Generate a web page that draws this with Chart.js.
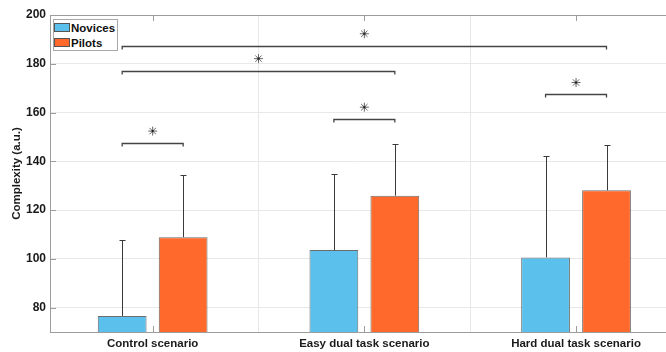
<!DOCTYPE html>
<html>
<head>
<meta charset="utf-8">
<script src="https://cdn.jsdelivr.net/npm/chart.js@4.4.1/dist/chart.umd.min.js"></script>
<style>
  html, body { margin: 0; padding: 0; background: #fff; }
  #wrap { position: relative; width: 666px; height: 352px; }
  #legend {
    position: absolute; left: 53px; top: 19px;
    width: 65px; height: 32px; box-sizing: border-box;
    border: 1px solid #a8a8a8; background: #fff;
    font: bold 11.5px "Liberation Sans", Arial, sans-serif; color: #111;
  }
  #legend .item { height: 15px; display: flex; align-items: center; white-space: nowrap; }
  #legend .sw { width: 16px; height: 9px; box-sizing: border-box; border: 1px solid #555; margin-right: 1px; }
</style>
</head>
<body>
<div id="wrap">
  <canvas id="chart" width="666" height="352"></canvas>
  <div id="legend"></div>
</div>
<script>
'use strict';

// ---------------------------------------------------------------------------
// Data
// ---------------------------------------------------------------------------

const categories = ['Control scenario', 'Easy dual task scenario', 'Hard dual task scenario'];
const seriesNames = ['Novices', 'Pilots'];
const novices    = [76.6, 103.6, 100.6];
const pilots     = [108.9, 125.9, 128.1];
const novicesTop = [107.6, 134.9, 142.3];   // upper end of error bar
const pilotsTop  = [134.4, 146.9, 146.6];
const yTicks     = [80, 100, 120, 140, 160, 180, 200];

// significance brackets: [series, category] -> [series, category] at level
const sigFrom  = [[0, 0], [0, 0], [0, 0], [0, 1], [0, 2]];
const sigTo    = [[1, 0], [1, 1], [1, 2], [1, 1], [1, 2]];
const sigLevel = [147.5, 177.2, 187.4, 157.3, 167.4];

const BLUE   = '#5bc0eb';
const ORANGE = '#ff6a2c';
const AXIS   = '#9c9c9c';
const GRID   = '#e8e8e8';
const FONT   = '"Liberation Sans", Arial, sans-serif';

// ---------------------------------------------------------------------------
// Plugins
// ---------------------------------------------------------------------------

const errorBars = {
  id: 'errorBars',
  afterDatasetsDraw(chart) {
    const { ctx, scales: { y } } = chart;
    ctx.save();
    ctx.strokeStyle = '#3a3a3a';
    ctx.lineWidth = 1;
    chart.data.datasets.forEach((ds, di) => {
      chart.getDatasetMeta(di).data.forEach((bar, i) => {
        const x = Math.round(bar.x) + 0.5;
        const top = Math.round(y.getPixelForValue(ds.errTop[i])) + 0.5;
        ctx.beginPath();
        ctx.moveTo(x, bar.y);
        ctx.lineTo(x, top);
        ctx.moveTo(x - 3, top);
        ctx.lineTo(x + 3, top);
        ctx.stroke();
      });
    });
    ctx.restore();
  },
};

const sigBrackets = {
  id: 'sigBrackets',
  afterDatasetsDraw(chart) {
    const { ctx, scales: { y } } = chart;
    const barX = ([s, c]) => chart.getDatasetMeta(s).data[c].x;
    ctx.save();
    ctx.strokeStyle = '#444';
    ctx.lineWidth = 1.3;
    sigLevel.forEach((lvl, k) => {
      const x1 = barX(sigFrom[k]);
      const x2 = barX(sigTo[k]);
      const yy = Math.round(y.getPixelForValue(lvl)) + 0.5;
      ctx.beginPath();
      ctx.moveTo(x1, yy + 3);
      ctx.lineTo(x1, yy);
      ctx.lineTo(x2, yy);
      ctx.lineTo(x2, yy + 3);
      ctx.stroke();

      const sx = (x1 + x2) / 2;
      const sy = y.getPixelForValue(lvl + 4.9);
      ctx.save();
      ctx.strokeStyle = '#666';
      ctx.lineWidth = 1;
      Chart.helpers.drawPoint(ctx, { pointStyle: 'star', radius: 4.5, borderWidth: 1, rotation: 0 }, sx, sy);
      ctx.fillStyle = '#222';
      ctx.fillRect(sx - 1, sy - 1, 2, 2);
      ctx.restore();
    });
    ctx.restore();
  },
};

const axisFrame = {
  id: 'axisFrame',
  afterDraw(chart) {
    const { ctx, chartArea: a, scales: { x, y } } = chart;
    ctx.save();
    ctx.strokeStyle = AXIS;
    ctx.lineWidth = 1;
    ctx.beginPath();
    ctx.moveTo(a.left, a.top + 0.5);
    ctx.lineTo(a.right, a.top + 0.5);
    // inward tick marks
    x.ticks.forEach(t => {
      const px = Math.round(x.getPixelForValue(t.value)) + 0.5;
      ctx.moveTo(px, a.bottom);
      ctx.lineTo(px, a.bottom - 6);
      ctx.moveTo(px, a.top);
      ctx.lineTo(px, a.top + 6);
    });
    y.ticks.forEach(t => {
      const py = Math.round(y.getPixelForValue(t.value)) + 0.5;
      ctx.moveTo(a.left, py);
      ctx.lineTo(a.left + 6, py);
    });
    ctx.stroke();
    ctx.restore();
  },
};

// ---------------------------------------------------------------------------
// Chart
// ---------------------------------------------------------------------------

const toPoints = arr => arr.map((v, i) => ({ x: i + 1, y: v }));

const chart = new Chart(document.getElementById('chart'), {
  type: 'bar',
  data: {
    datasets: [
      {
        label: seriesNames[0],
        data: toPoints(novices),
        errTop: novicesTop,
        backgroundColor: BLUE,
        borderColor: 'rgba(60,60,60,0.75)',
        borderWidth: 1,
        categoryPercentage: 0.576,
        barPercentage: 0.8,
      },
      {
        label: seriesNames[1],
        data: toPoints(pilots),
        errTop: pilotsTop,
        backgroundColor: ORANGE,
        borderColor: 'rgba(60,60,60,0.75)',
        borderWidth: 1,
        categoryPercentage: 0.576,
        barPercentage: 0.8,
      },
    ],
  },
  options: {
    responsive: false,
    animation: false,
    layout: { padding: { top: 15, right: 0, bottom: 0, left: 0 } },
    plugins: { legend: { display: false }, tooltip: { enabled: false } },
    scales: {
      x: {
        type: 'linear',
        offset: false,
        min: 0.515,
        max: 3.425,
        afterBuildTicks: s => { s.ticks = categories.map((_, i) => ({ value: i + 1 })); },
        afterFit: s => { s.height = 20; },
        grid: { color: GRID, drawTicks: false },
        border: { color: AXIS },
        ticks: {
          padding: 5,
          color: '#1a1a1a',
          maxRotation: 0,
          font: { family: FONT, size: 11.5, weight: 'bold' },
          callback: v => categories[v - 1] ?? '',
        },
      },
      y: {
        min: 70,
        max: 200,
        afterBuildTicks: s => { s.ticks = yTicks.map(v => ({ value: v })); },
        afterFit: s => { s.width = 50; },
        grid: { color: GRID, drawTicks: false },
        border: { color: AXIS },
        ticks: {
          padding: 4,
          color: '#1a1a1a',
          font: { family: FONT, size: 12, weight: 'bold' },
        },
        title: {
          display: true,
          text: 'Complexity (a.u.)',
          color: '#1a1a1a',
          padding: { top: 10, bottom: 0 },
          font: { family: FONT, size: 11.5, weight: 'bold' },
        },
      },
    },
  },
  plugins: [errorBars, sigBrackets, axisFrame],
});

// HTML legend built from the datasets
document.getElementById('legend').innerHTML = chart.data.datasets.map(ds => `
  <div class="item"><span class="sw" style="background:${ds.backgroundColor}"></span>${ds.label}</div>
`).join('');
</script>
</body>
</html>
